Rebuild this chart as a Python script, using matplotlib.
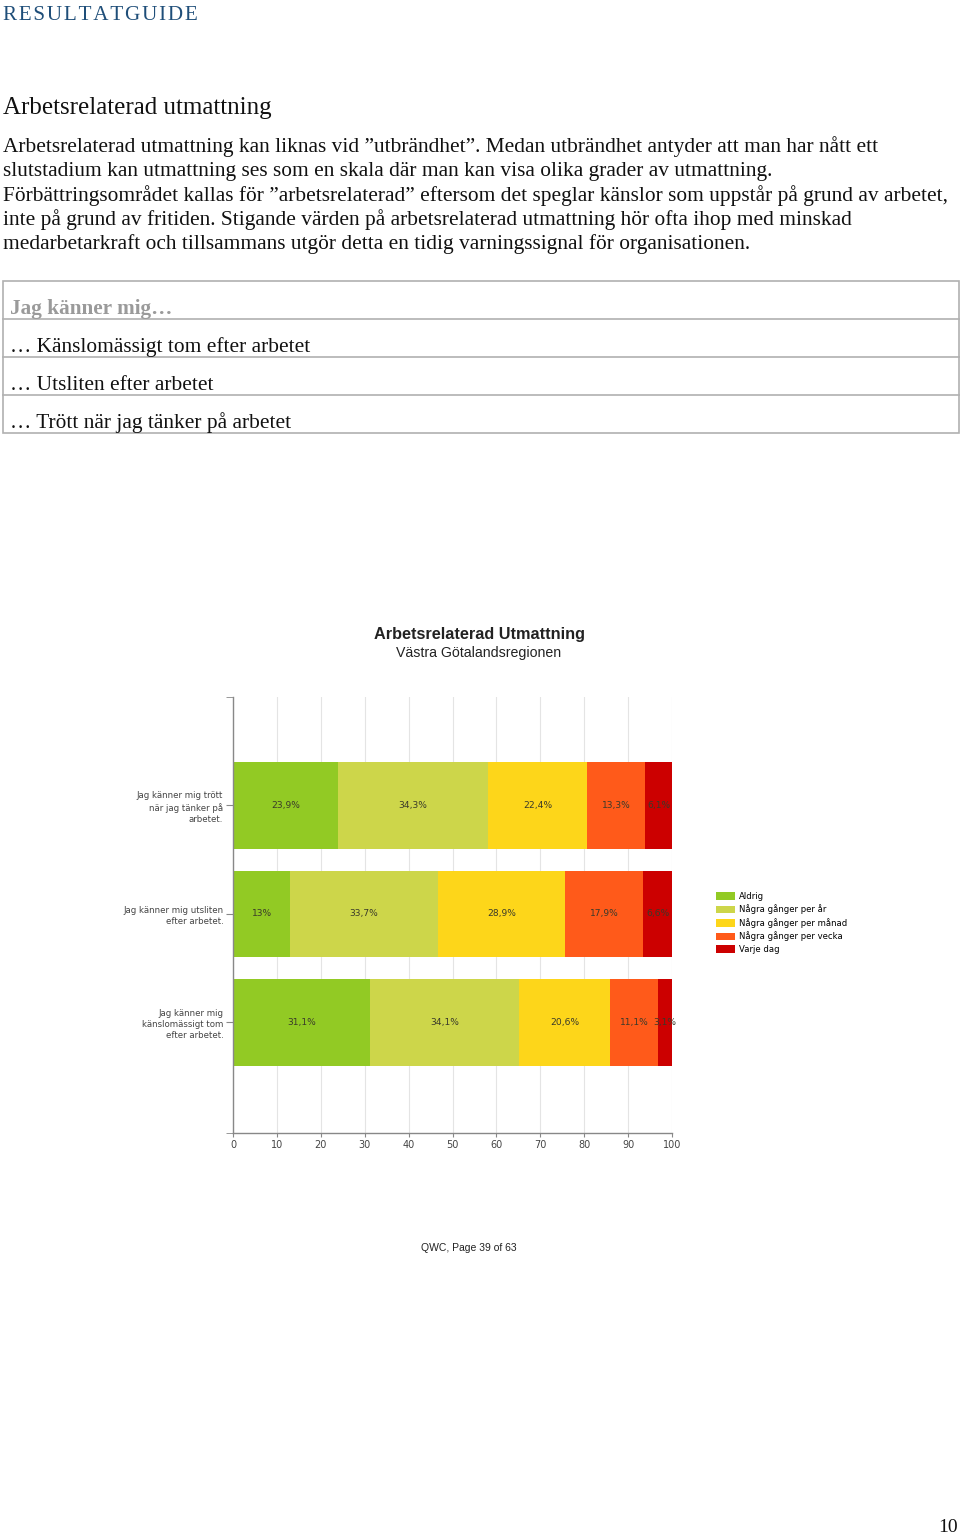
import numpy as np
import matplotlib.pyplot as plt
from matplotlib.patches import Rectangle, Patch
from matplotlib.lines import Line2D

W, H = 960, 1535

# data
categories = ['Jag känner mig\nkänslomässigt tom\nefter arbetet.',
              'Jag känner mig utsliten\nefter arbetet.',
              'Jag känner mig trött\nnär jag tänker på\narbetet.']
series = ['Aldrig', 'Några gånger per år', 'Några gånger per månad',
          'Några gånger per vecka', 'Varje dag']
aldrig = [31.1, 13.0, 23.9]
per_ar = [34.1, 33.7, 34.3]
per_manad = [20.6, 28.9, 22.4]
per_vecka = [11.1, 17.9, 13.3]
varje_dag = [3.1, 6.6, 6.1]
colors = ['#92ca24', '#cdd64a', '#fdd61a', '#ff5a1a', '#cc0000']
xticks = [0, 10, 20, 30, 40, 50, 60, 70, 80, 90, 100]

paragraph = [
    'Arbetsrelaterad utmattning kan liknas vid \u201dutbrändhet\u201d. Medan utbrändhet antyder att man har nått ett',
    'slutstadium kan utmattning ses som en skala där man kan visa olika grader av utmattning.',
    'Förbättringsområdet kallas för \u201darbetsrelaterad\u201d eftersom det speglar känslor som uppstår på grund av arbetet,',
    'inte på grund av fritiden. Stigande värden på arbetsrelaterad utmattning hör ofta ihop med minskad',
    'medarbetarkraft och tillsammans utgör detta en tidig varningssignal för organisationen.',
]
table_rows = ['\u2026 Känslomässigt tom efter arbetet',
              '\u2026 Utsliten efter arbetet',
              '\u2026 Trött när jag tänker på arbetet']


def fx(x):
    return x / W


def fy(y):
    return 1 - y / H


fig = plt.figure(figsize=(W / 100, H / 100), dpi=100)
serif = 'Liberation Serif'

# page header and text
fig.text(fx(3), fy(16), 'R E S U L T A T G U I D E'.replace(' ', '\u200a'), family=serif,
         fontsize=15.2, color='#1f4e79', va='center', ha='left')
fig.text(fx(3), fy(108), 'Arbetsrelaterad utmattning', family=serif, fontsize=18,
         color='#111111', va='center')
for i, line in enumerate(paragraph):
    fig.text(fx(3), fy(147 + i * 24.3), line, family=serif, fontsize=15.4,
             color='#111111', va='center')

# table
tl = '#b0b0b0'
fig.add_artist(Rectangle((fx(3), fy(433)), fx(956), (433 - 281) / H,
                         transform=fig.transFigure, fill=False, ec=tl, lw=1.2))
for yy in [319, 357, 395]:
    fig.add_artist(Line2D([fx(3), fx(959)], [fy(yy), fy(yy)],
                          transform=fig.transFigure, color=tl, lw=1.2))
fig.text(fx(10), fy(309), 'Jag känner mig\u2026', family=serif, fontsize=15.3,
         fontweight='bold', color='#9a9a9a', va='center')
for i, row in enumerate(table_rows):
    fig.text(fx(10), fy(347 + i * 38), row, family=serif, fontsize=15.4,
             color='#111111', va='center')

# chart
ax = fig.add_axes([fx(233), fy(1133), fx(672 - 233), (1133 - 697) / H])
y = np.arange(len(categories))
left = np.zeros(len(categories))
all_vals = [aldrig, per_ar, per_manad, per_vecka, varje_dag]
for name, vals, c in zip(series, all_vals, colors):
    vals = np.array(vals)
    ax.barh(y, vals, left=left, height=0.8, color=c, label=name, zorder=2)
    for yi, (l, v) in enumerate(zip(left, vals)):
        txt = ('%g' % v).replace('.', ',') + '%'
        ax.text(l + v / 2, yi, txt, ha='center', va='center', fontsize=6.6,
                color='#3a3a2a', family='DejaVu Sans', zorder=3)
    left = left + vals

ax.set_xlim(0, 100)
ax.set_ylim(-1.02, 3.0)
ax.set_xticks(xticks)
ax.set_xticklabels([str(t) for t in xticks], fontsize=7, color='#444444')
ax.set_yticks(y)
ax.set_yticklabels(categories, fontsize=6.25, color='#444444', linespacing=1.3)
ax.set_yticks([-1.02, 3.0], minor=True)
ax.tick_params(axis='y', which='both', length=5, color='#888888', pad=2)
ax.tick_params(axis='x', length=3, color='#888888', pad=2)
ax.xaxis.grid(True, color='#e4e4e4', lw=0.8, zorder=0)
for s in ['top', 'right']:
    ax.spines[s].set_visible(False)
for s in ['left', 'bottom']:
    ax.spines[s].set_color('#888888')
    ax.spines[s].set_linewidth(1)

fig.text(fx(479), fy(635), 'Arbetsrelaterad Utmattning', family='Liberation Sans',
         fontsize=11.7, fontweight='bold', color='#222222', ha='center', va='center')
fig.text(fx(479), fy(653), 'Västra Götalandsregionen', family='Liberation Sans',
         fontsize=10.2, color='#222222', ha='center', va='center')

handles = [Patch(facecolor=c, edgecolor='none') for c in colors]
fig.legend(handles, series, loc='upper left', bbox_to_anchor=(fx(710), fy(886)),
           frameon=False, handlelength=2.2, handleheight=0.9,
           labelspacing=0.42, handletextpad=0.45, borderpad=0.2,
           prop={'family': 'DejaVu Sans', 'size': 6.15})

fig.text(fx(421), fy(1248), 'QWC, Page 39 of 63', family='Liberation Sans',
         fontsize=7.5, color='#222222', va='center')
fig.text(fx(958), fy(1527), '10', family=serif, fontsize=14, color='#111111',
         ha='right', va='center')

fig.savefig('out.png', dpi=100)
